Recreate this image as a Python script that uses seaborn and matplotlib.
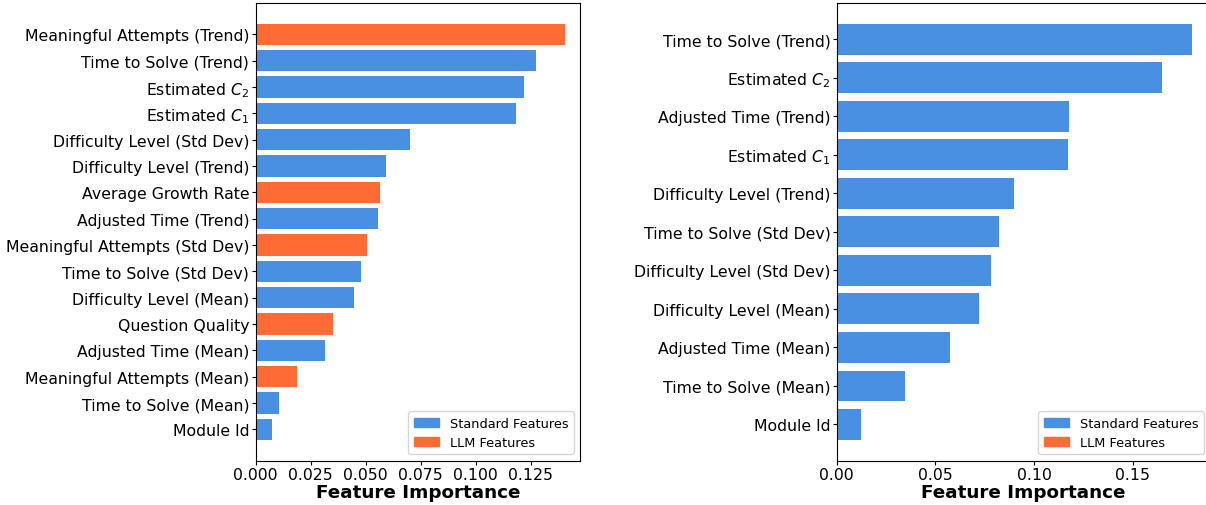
import matplotlib
matplotlib.use("Agg")
import matplotlib.pyplot as plt
from matplotlib.patches import Patch
import pandas as pd
import seaborn as sns

# Left model: standard + LLM-derived features
left_features = [
    "Meaningful Attempts (Trend)", "Time to Solve (Trend)", r"Estimated $C_2$",
    r"Estimated $C_1$", "Difficulty Level (Std Dev)", "Difficulty Level (Trend)",
    "Average Growth Rate", "Adjusted Time (Trend)", "Meaningful Attempts (Std Dev)",
    "Time to Solve (Std Dev)", "Difficulty Level (Mean)", "Question Quality",
    "Adjusted Time (Mean)", "Meaningful Attempts (Mean)", "Time to Solve (Mean)",
    "Module Id",
]
left_importance = [
    0.1404, 0.1273, 0.1218, 0.1182, 0.0703, 0.0593, 0.0566, 0.0557,
    0.0506, 0.0479, 0.0447, 0.0351, 0.0315, 0.0187, 0.0109, 0.0073,
]
left_kind = [
    "LLM", "Standard", "Standard", "Standard", "Standard", "Standard",
    "LLM", "Standard", "LLM", "Standard", "Standard", "LLM",
    "Standard", "LLM", "Standard", "Standard",
]

# Right model: standard features only
right_features = [
    "Time to Solve (Trend)", r"Estimated $C_2$", "Adjusted Time (Trend)",
    r"Estimated $C_1$", "Difficulty Level (Trend)", "Time to Solve (Std Dev)",
    "Difficulty Level (Std Dev)", "Difficulty Level (Mean)", "Adjusted Time (Mean)",
    "Time to Solve (Mean)", "Module Id",
]
right_importance = [
    0.1800, 0.1648, 0.1177, 0.1172, 0.0899, 0.0823,
    0.0782, 0.0722, 0.0575, 0.0347, 0.0124,
]
right_kind = ["Standard"] * len(right_features)

palette = {"Standard": "#4A90E2", "LLM": "#FF6B35"}
tick_fs = 11.3

fig = plt.figure(figsize=(12.06, 5.06), dpi=100)
W, H = 1206, 506
ax_left = fig.add_axes([255.5 / W, (H - 461.7) / H, (580 - 255.5) / W, (461.7 - 4) / H])
ax_right = fig.add_axes([836.7 / W, (H - 461.7) / H, (1210 - 836.7) / W, (461.7 - 4) / H])


def draw_panel(ax, features, values, kinds):
    df = pd.DataFrame({"feature": features, "importance": values, "kind": kinds})
    sns.barplot(data=df, x="importance", y="feature", hue="kind", order=features,
                palette=palette, dodge=False, width=0.8, legend=False, ax=ax,
                saturation=1)
    n = len(features)
    span = (n - 1) + 0.8
    ax.set_ylim(n - 1 + 0.4 + 0.05 * span, -0.4 - 0.05 * span)
    ax.set_xlim(0, max(values) * 1.05)
    ax.set_ylabel("")
    ax.set_xlabel("Feature Importance", fontsize=13.2, fontweight="bold", labelpad=1)
    ax.tick_params(axis="both", labelsize=tick_fs, length=3, pad=1.5)
    handles = [Patch(color=palette["Standard"], label="Standard Features"),
               Patch(color=palette["LLM"], label="LLM Features")]
    ax.legend(handles=handles, loc="lower right", fontsize=9.3)


draw_panel(ax_left, left_features, left_importance, left_kind)
draw_panel(ax_right, right_features, right_importance, right_kind)

fig.savefig("out.png", dpi=100)
